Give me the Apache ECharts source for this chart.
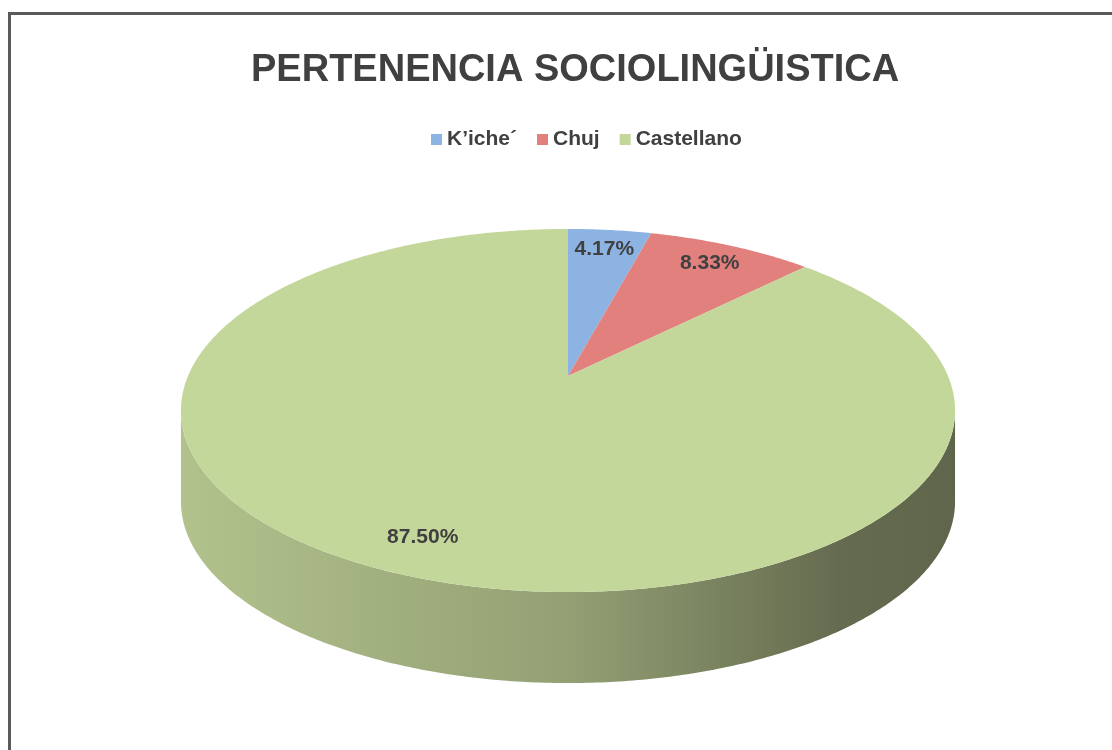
<!DOCTYPE html>
<html>
<head>
<meta charset="utf-8">
<script src="https://cdn.jsdelivr.net/npm/echarts@6/dist/echarts.min.js"></script>
<style>
  html, body { margin: 0; background: #fff; }
  #frame { position: absolute; left: 8px; top: 12px; right: 0; bottom: 0;
           border-left: 3px solid #5a5a5a; border-top: 3px solid #5a5a5a; }
  #chart { position: absolute; left: 0; top: 0; width: 1112px; height: 750px; }
</style>
</head>
<body>
<div id="frame"></div>
<div id="chart"></div>
<script>
const categories = ['K’iche´', 'Chuj', 'Castellano'];
const percents = [4.17, 8.33, 87.50];
const colors = ['#8db3e2', '#e2807d', '#c4d79b'];

const FONT = '"Liberation Sans", Arial, sans-serif';

// 3d look: a disk seen from above with a little perspective
const cx = 568, cy = 376, rx = 380, ry = 175, persp = 0.19, depth = 91;
const total = percents.reduce((a, b) => a + b, 0);
const starts = percents.map((v, i) => percents.slice(0, i).reduce((a, b) => a + b, 0));

// phi: clockwise from the back of the disk (top of screen), r: 0..1
function project(phi, r) {
  let u = r * Math.sin(phi), v = -r * Math.cos(phi);
  let w = 1 - persp * v;
  return [cx + rx * u / w, cy + ry * v / w];
}

function arc(a, b, dy) {
  let pts = [];
  let n = Math.max(2, Math.ceil((b - a) / 0.01));
  for (let i = 0; i <= n; i++) {
    let p = project(a + (b - a) * i / n, 1);
    pts.push([p[0], p[1] + (dy || 0)]);
  }
  return pts;
}

// the outer wall is seen between the two silhouette points
const wallFrom = Math.acos(-persp), wallTo = 2 * Math.PI - wallFrom;

function renderItem(params, api) {
  let a = api.value(1) / total * 2 * Math.PI;
  let b = (api.value(1) + api.value(0)) / total * 2 * Math.PI;
  let color = api.visual('color');
  let children = [];

  let w0 = Math.max(a, wallFrom), w1 = Math.min(b, wallTo);
  if (w1 > w0) {
    let pts = arc(w0, w1, 0).concat(arc(w0, w1, depth).reverse());
    children.push({
      type: 'polygon',
      shape: { points: pts },
      style: {
        fill: {
          type: 'linear', x: cx - rx * 1.02, y: 0, x2: cx + rx * 1.02, y2: 0, global: true,
          colorStops: [
            { offset: 0, color: echarts.color.lerp(0.15, [color, '#4a4d3a']) },
            { offset: 0.5, color: echarts.color.lerp(0.4, [color, '#4a4d3a']) },
            { offset: 0.85, color: echarts.color.lerp(0.78, [color, '#4a4d3a']) },
            { offset: 1, color: echarts.color.lerp(0.82, [color, '#4a4d3a']) }
          ]
        }
      }
    });
  }

  children.push({
    type: 'polygon',
    shape: { points: [project(0, 0)].concat(arc(a, b, 0)) },
    style: { fill: color }
  });

  let lp = project((a + b) / 2, 0.85);
  children.push({
    type: 'text',
    style: {
      x: lp[0], y: lp[1],
      text: api.value(0).toFixed(2) + '%',
      fill: '#404040',
      font: 'bold 21px ' + FONT,
      align: 'center',
      verticalAlign: 'middle'
    }
  });

  return { type: 'group', children: children };
}

let chart = echarts.init(document.getElementById('chart'));
chart.setOption({
  animation: false,
  title: {
    text: 'PERTENENCIA SOCIOLINGÜISTICA',
    left: 246,
    top: 47,
    textStyle: { fontFamily: FONT, fontSize: 38, fontWeight: 'bold', color: '#404040' }
  },
  legend: {
    top: 124,
    left: 426,
    icon: 'rect',
    itemWidth: 11,
    itemHeight: 11,
    itemGap: 20,
    textStyle: { fontFamily: FONT, fontSize: 21, fontWeight: 'bold', color: '#404040' },
    data: categories
  },
  series: categories.map((name, i) => ({
    type: 'custom',
    name: name,
    coordinateSystem: 'none',
    itemStyle: { color: colors[i] },
    renderItem: renderItem,
    data: [[percents[i], starts[i]]]
  }))
});
</script>
</body>
</html>
